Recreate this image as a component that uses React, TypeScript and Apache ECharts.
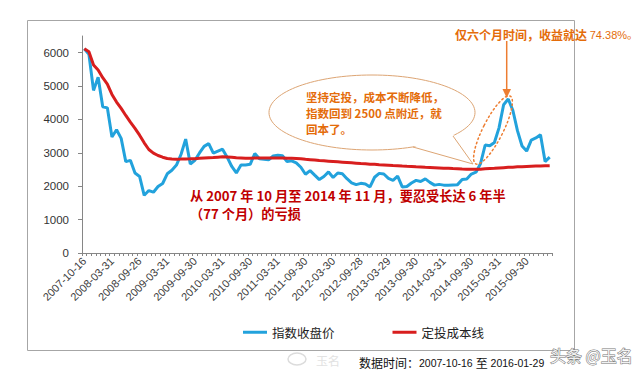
import { useEffect, useRef } from 'react';
import * as echarts from 'echarts';

const tickLabels = [
  '2007-10-16', '2008-03-31', '2008-09-26', '2009-03-31', '2009-09-30', '2010-03-31',
  '2010-09-30', '2011-03-31', '2011-09-30', '2012-03-30', '2012-09-28', '2013-03-29',
  '2013-09-30', '2014-03-31', '2014-09-30', '2015-03-31', '2015-09-30',
];

const closePrice = [
  6120, 5954, 4871, 5262, 4383, 4348, 3473, 3693, 3433, 2736,
  2775, 2397, 2293, 1729, 1871, 1821, 1991, 2082, 2373, 2477,
  2633, 2959, 3412, 2667, 2779, 2996, 3195, 3277, 2989, 3051,
  3109, 2870, 2592, 2398, 2638, 2638, 2656, 2979, 2820, 2808,
  2790, 2905, 2928, 2911, 2743, 2762, 2701, 2568, 2359, 2469,
  2333, 2199, 2292, 2428, 2262, 2396, 2373, 2225, 2103, 2047,
  2086, 2069, 1980, 2269, 2385, 2366, 2236, 2178, 2301, 1979,
  1994, 2098, 2175, 2141, 2220, 2116, 2033, 2056, 2033, 2026,
  2039, 2048, 2201, 2217, 2364, 2420, 2683, 3235, 3210, 3310,
  3748, 4442, 4612, 4277, 3664, 3206, 3053, 3383, 3445, 3539,
  2738, 2870,
];

const costLine = [
  6120, 6030, 5630, 5480, 5250, 5060, 4750, 4520, 4330, 4120,
  3920, 3735, 3530, 3300, 3100, 2990, 2920, 2870, 2830, 2815,
  2810, 2812, 2818, 2820, 2825, 2835, 2845, 2855, 2860, 2870,
  2880, 2875, 2865, 2850, 2845, 2840, 2840, 2845, 2845, 2845,
  2845, 2845, 2845, 2845, 2840, 2835, 2830, 2820, 2805, 2795,
  2785, 2770, 2760, 2750, 2740, 2730, 2720, 2710, 2700, 2690,
  2680, 2672, 2662, 2655, 2645, 2638, 2630, 2622, 2615, 2605,
  2597, 2590, 2582, 2575, 2568, 2562, 2555, 2548, 2540, 2535,
  2528, 2522, 2516, 2512, 2510, 2510, 2512, 2520, 2528, 2535,
  2545, 2555, 2565, 2572, 2580, 2585, 2592, 2598, 2603, 2608,
  2612, 2615,
];

const yTicks = [0, 1000, 2000, 3000, 4000, 5000, 6000];

const seriesNames = ['指数收盘价', '定投成本线'];
const topNote = '仅六个月时间，收益就达 ';
const topNotePct = '74.38%。';
const bubbleLines = ['坚持定投，成本不断降低，', '指数回到 2500 点附近，就', '回本了。'];
const lossLines = ['从 2007 年 10 月至 2014 年 11 月，要忍受长达 6 年半', '（77 个月）的亏损'];
const sourceParts = ['数据时间：', '2007-10-16 ', '至', ' 2016-01-29'];

const categories = closePrice.map((_, i) => (i % 6 === 0 ? tickLabels[i / 6] : `p${i}`));

const ORANGE = '#E46C0A';
const ARROW = '#ED7D31';
const BLUE = '#22A2DC';
const RED = '#D81E1E';
const DARKRED = '#C00000';
const CJK = '"Noto Sans CJK SC", sans-serif';
const LAT = '"Liberation Sans", "Noto Sans CJK SC", sans-serif';

export default function App() {
  const ref = useRef<HTMLDivElement>(null);
  useEffect(() => {
    if (!ref.current) return;
    const chart = echarts.init(ref.current, undefined, { renderer: 'svg' });
    chart.setOption({
      animation: false,
      backgroundColor: '#ffffff',
      grid: { left: 82, top: 36, width: 470, height: 217 },
      legend: {
        data: seriesNames,
        left: 238,
        top: 321,
        icon: 'rect',
        itemWidth: 24,
        itemHeight: 3,
        itemGap: 58,
        textStyle: { fontSize: 12.5, color: '#222', fontFamily: CJK },
      },
      xAxis: {
        type: 'category',
        data: categories,
        boundaryGap: true,
        axisLine: { lineStyle: { color: '#868686', width: 1 } },
        axisTick: { show: true, interval: 0, length: 3, lineStyle: { color: '#868686' } },
        axisLabel: {
          interval: 5,
          rotate: 45,
          margin: 6,
          fontSize: 11,
          color: '#404040',
          fontFamily: LAT,
        },
        splitLine: { show: false },
      },
      yAxis: {
        type: 'value',
        min: 0,
        max: 6500,
        interval: 500,
        axisLine: { show: true, lineStyle: { color: '#868686', width: 1 } },
        axisTick: { show: true, length: 4, customValues: yTicks, lineStyle: { color: '#868686' } },
        axisLabel: {
          customValues: yTicks,
          margin: 13,
          fontSize: 11.5,
          color: '#333',
          fontFamily: LAT,
          formatter: (v: number) => (v % 1000 === 0 ? String(v) : ''),
        },
        splitLine: { show: false },
      },
      series: [
        {
          name: seriesNames[0],
          type: 'line',
          data: closePrice,
          symbol: 'none',
          lineStyle: { color: BLUE, width: 3 },
          itemStyle: { color: BLUE },
          z: 2,
        },
        {
          name: seriesNames[1],
          type: 'line',
          data: costLine,
          symbol: 'none',
          lineStyle: { color: RED, width: 3 },
          itemStyle: { color: RED },
          z: 3,
        },
      ],
      graphic: [
        {
          type: 'rect',
          shape: { x: 27.5, y: 20.5, width: 547, height: 330 },
          style: { fill: 'none', stroke: '#A6A6A6', lineWidth: 1 },
          silent: true,
        },
        // speech bubble
        {
          type: 'ellipse',
          shape: { cx: 372, cy: 112.5, rx: 103, ry: 37.5 },
          style: { fill: '#ffffff', stroke: '#DDA574', lineWidth: 1 },
          z: 10,
        },
        {
          type: 'polygon',
          shape: { points: [[410, 145], [473, 164], [452, 133]] },
          style: { fill: '#ffffff', stroke: 'none' },
          z: 11,
        },
        {
          type: 'polyline',
          shape: { points: [[413, 147], [473, 164], [453, 136]] },
          style: { fill: 'none', stroke: '#DDA574', lineWidth: 1 },
          z: 11,
        },
        ...bubbleLines.map((t, k) => ({
          type: 'text',
          x: 306,
          y: 96.5 + k * 16,
          z: 12,
          style: {
            text: t,
            fill: ORANGE,
            fontSize: 11.5,
            fontWeight: 'bold',
            fontFamily: CJK,
            verticalAlign: 'middle',
          },
        })),
        // dotted ellipse around the rally
        {
          type: 'ellipse',
          x: 493,
          y: 130,
          rotation: -0.47,
          shape: { cx: 0, cy: 0, rx: 10, ry: 38 },
          style: { fill: 'none', stroke: ARROW, lineWidth: 1.5, lineDash: [1.5, 3], lineCap: 'round' },
          z: 12,
        },
        // arrow
        {
          type: 'line',
          shape: { x1: 506.7, y1: 41, x2: 506.7, y2: 92 },
          style: { stroke: ARROW, lineWidth: 1.5 },
          z: 12,
        },
        {
          type: 'polygon',
          shape: { points: [[502.5, 89], [511, 89], [506.7, 98]] },
          style: { fill: ARROW },
          z: 12,
        },
        {
          type: 'text',
          x: 455,
          y: 34.5,
          z: 12,
          style: {
            text: `{a|${topNote}}{b|${topNotePct}}`,
            verticalAlign: 'middle',
            rich: {
              a: { fill: ORANGE, fontSize: 12, fontWeight: 'bold', fontFamily: CJK },
              b: { fill: ORANGE, fontSize: 11, fontFamily: LAT },
            },
          },
        },
        ...lossLines.map((t, k) => ({
          type: 'text',
          x: 190,
          y: 195 + k * 18.5,
          z: 12,
          style: {
            text: t,
            fill: DARKRED,
            fontSize: 13.2,
            fontWeight: 'bold',
            fontFamily: CJK,
            verticalAlign: 'middle',
          },
        })),
        // watermarks and source
        {
          type: 'ellipse',
          shape: { cx: 297, cy: 359, rx: 9, ry: 6 },
          style: { fill: 'none', stroke: '#dcdcdc', lineWidth: 1.5 },
        },
        {
          type: 'text',
          x: 316,
          y: 360,
          style: { text: '玉名', fill: '#e2e2e2', fontSize: 12, fontFamily: CJK, verticalAlign: 'middle' },
        },
        {
          type: 'text',
          x: 359,
          y: 362.5,
          style: {
            text: `{a|${sourceParts[0]}}{b|${sourceParts[1]}}{a|${sourceParts[2]}}{b|${sourceParts[3]}}`,
            verticalAlign: 'middle',
            rich: {
              a: { fill: '#111', fontSize: 12, fontFamily: CJK },
              b: { fill: '#111', fontSize: 10.5, fontFamily: LAT },
            },
          },
        },
        {
          type: 'text',
          x: 550,
          y: 355,
          z: 20,
          style: {
            text: '头条 @玉名',
            fill: '#f2f2f2',
            stroke: '#777',
            lineWidth: 1,
            fontSize: 16,
            fontFamily: CJK,
            verticalAlign: 'middle',
          },
        },
      ],
    });
    return () => chart.dispose();
  }, []);
  return (
    <div
      ref={ref}
      style={{ position: 'fixed', left: 0, top: 0, width: 640, height: 377, background: '#fff' }}
    />
  );
}
